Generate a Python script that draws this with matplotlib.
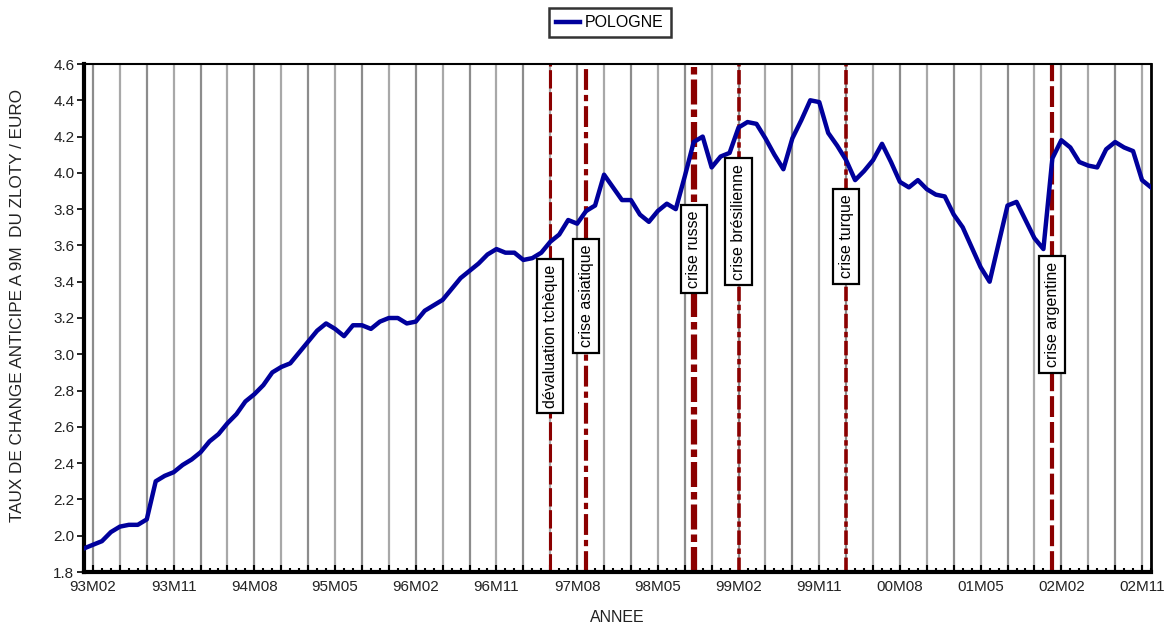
import matplotlib
matplotlib.use("Agg")
import matplotlib.pyplot as plt
import numpy as np

# ---- data -------------------------------------------------------------
start_month = "93M01"
pologne = [
    1.93, 1.95, 1.97, 2.02, 2.05, 2.06, 2.06, 2.09, 2.30, 2.33,
    2.35, 2.39, 2.42, 2.46, 2.52, 2.56, 2.62, 2.67, 2.74, 2.78,
    2.83, 2.90, 2.93, 2.95, 3.01, 3.07, 3.13, 3.17, 3.14, 3.10,
    3.16, 3.16, 3.14, 3.18, 3.20, 3.20, 3.17, 3.18, 3.24, 3.27,
    3.30, 3.36, 3.42, 3.46, 3.50, 3.55, 3.58, 3.56, 3.56, 3.52,
    3.53, 3.56, 3.62, 3.66, 3.74, 3.72, 3.79, 3.82, 3.99, 3.92,
    3.85, 3.85, 3.77, 3.73, 3.79, 3.83, 3.80, 3.98, 4.17, 4.20,
    4.03, 4.09, 4.11, 4.25, 4.28, 4.27, 4.19, 4.10, 4.02, 4.19,
    4.29, 4.40, 4.39, 4.22, 4.15, 4.07, 3.96, 4.01, 4.07, 4.16,
    4.06, 3.95, 3.92, 3.96, 3.91, 3.88, 3.87, 3.77, 3.70, 3.59,
    3.48, 3.40, 3.61, 3.82, 3.84, 3.74, 3.64, 3.58, 4.08, 4.18,
    4.14, 4.06, 4.04, 4.03, 4.13, 4.17, 4.14, 4.12, 3.96, 3.92,
]
tick_labels = ["93M02", "93M11", "94M08", "95M05", "96M02", "96M11", "97M08",
               "98M05", "99M02", "99M11", "00M08", "01M05", "02M02", "02M11"]
event_months = ["97M05", "97M09", "98M09", "99M02", "00M02", "02M01"]
event_names = ["dévaluation tchèque", "crise asiatique", "crise russe",
               "crise brésilienne", "crise turque", "crise argentine"]
y_ticks = [1.8, 2.0, 2.2, 2.4, 2.6, 2.8, 3.0, 3.2, 3.4, 3.6, 3.8, 4.0, 4.2, 4.4, 4.6]

# ---- styles ------------------------------------------------------------
event_label_y = [3.10, 3.32, 3.58, 3.73, 3.65, 3.22]
event_lw = [2.2, 3.0, 4.5, 2.6, 2.6, 3.0]
event_dash = [(0, (6, 1.2)), (0, (5, 1.2, 1.5, 1.2)), (0, (4, 0.8, 1.2, 0.8)),
              (0, (4, 1.0, 1.5, 1.0)), (0, (4, 1.0, 1.5, 1.0)), (0, (5, 1.2))]
RED = "#8b0000"
BLUE = "#00009c"
TXT = "#222222"

plt.rcParams['font.family'] = ['Liberation Sans', 'DejaVu Sans']


def month_index(lbl):
    yy = int(lbl[:2])
    yy = yy + 100 if yy < 50 else yy
    mm = int(lbl[3:])
    s_yy = int(start_month[:2]); s_mm = int(start_month[3:])
    return (yy - s_yy) * 12 + (mm - s_mm)


fig = plt.figure(figsize=(11.74, 6.29), dpi=100)
ax = fig.add_axes([84 / 1174, 1 - 572 / 629, (1151 - 84) / 1174, (572 - 64) / 629])

x = np.arange(len(pologne))
n = len(pologne)

# quarterly gridlines
grid_pos = np.arange(month_index(tick_labels[0]), n, 3)
for k, gx in enumerate(grid_pos):
    ax.axvline(gx, color="#8c8c8c" if k % 2 == 0 else "#a8a8a8", lw=1.6, zorder=1)

# event lines
for em, lw, ls in zip(event_months, event_lw, event_dash):
    ex = month_index(em)
    ax.axvline(ex, color=RED, lw=lw, linestyle=ls, zorder=2)

ax.plot(x, pologne, color=BLUE, lw=3.2, zorder=4, label="POLOGNE",
        solid_joinstyle="round")

for em, name, ly in zip(event_months, event_names, event_label_y):
    ax.text(month_index(em), ly, name, rotation=90, ha="center", va="center",
            fontsize=11.5, zorder=5,
            bbox=dict(boxstyle="square,pad=0.35", fc="white", ec="black", lw=1.6))

ax.set_xlim(0, n - 1)
ax.set_ylim(1.8, 4.6)
ax.set_yticks(y_ticks)
ax.set_yticklabels([f"{v:.1f}" for v in y_ticks], fontsize=11, color=TXT)

major = grid_pos
ax.set_xticks(major)
lab_pos = {month_index(t): t for t in tick_labels}
ax.set_xticklabels([lab_pos.get(int(p), "") for p in major], fontsize=11, color=TXT)
ax.set_xticks(np.arange(0, n), minor=True)
ax.tick_params(axis="x", which="major", direction="in", length=5, width=1.5, pad=6)
ax.tick_params(axis="x", which="minor", direction="in", length=3, width=1.5)
ax.tick_params(axis="y", direction="out", length=5, width=1.2, pad=2)

ax.spines["left"].set_linewidth(3)
ax.spines["bottom"].set_linewidth(3)
ax.spines["top"].set_linewidth(1.5)
ax.spines["right"].set_linewidth(2)

ax.set_xlabel("ANNEE", fontsize=11.5, color=TXT)
ax.xaxis.set_label_coords((617 - 84) / 1067, -(617 - 572) / 508)
ax.set_ylabel("TAUX DE CHANGE ANTICIPE A 9M  DU ZLOTY / EURO", fontsize=12.3,
              color=TXT)
ax.yaxis.set_label_coords((18 - 84) / 1067, (572 - 305) / 508)
ax.yaxis.label.set_va("center")
ax.xaxis.label.set_va("center")

leg = fig.legend(loc="upper center", bbox_to_anchor=(610 / 1174, 1 - 8 / 629),
                 fontsize=11.5, frameon=True, fancybox=False, handlelength=1.5,
                 handletextpad=0.3, borderpad=0.45, borderaxespad=0)
leg.get_frame().set_edgecolor("black")
leg.get_frame().set_linewidth(1.8)

fig.savefig("out.png", dpi=100)
